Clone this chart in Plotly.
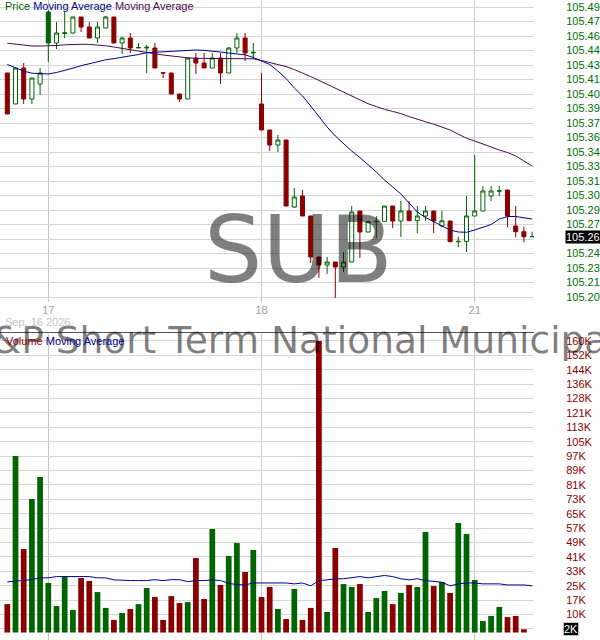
import plotly.graph_objects as go

# 15 minute bars, Sep 16 (last 5) .. Sep 21 (first 8)
opens = [105.424, 105.393, 105.429, 105.398, 105.413, 105.485, 105.454, 105.4635, 105.464, 105.480,
         105.470, 105.459, 105.469, 105.480, 105.454, 105.459, 105.4490, 105.4490, 105.449, 105.4242,
         105.424, 105.403, 105.398, 105.439, 105.434, 105.429, 105.439, 105.424, 105.449, 105.459,
         105.4440, 105.393, 105.367, 105.352, 105.357, 105.290, 105.301, 105.281, 105.240, 105.232,
         105.235, 105.230, 105.235, 105.286, 105.265, 105.2752, 105.2756, 105.291, 105.276, 105.286,
         105.2763, 105.281, 105.286, 105.271, 105.276, 105.2553, 105.2556, 105.281, 105.286, 105.301,
         105.3058, 105.307, 105.271, 105.2653, 105.2602]
highs = [105.424, 105.429, 105.434, 105.419, 105.429, 105.487, 105.475, 105.485, 105.480, 105.480,
         105.475, 105.475, 105.481, 105.480, 105.460, 105.464, 105.454, 105.452, 105.454, 105.4242,
         105.424, 105.403, 105.439, 105.444, 105.444, 105.444, 105.444, 105.450, 105.464, 105.464,
         105.454, 105.424, 105.367, 105.362, 105.357, 105.309, 105.307, 105.281, 105.240, 105.240,
         105.235, 105.245, 105.291, 105.286, 105.2755, 105.281, 105.291, 105.291, 105.296, 105.296,
         105.291, 105.291, 105.286, 105.286, 105.276, 105.260, 105.301, 105.342, 105.311, 105.311,
         105.311, 105.307, 105.291, 105.2703, 105.2653]
lows = [105.383, 105.393, 105.393, 105.393, 105.402, 105.435, 105.448, 105.459, 105.464, 105.465,
        105.459, 105.454, 105.469, 105.454, 105.443, 105.444, 105.449, 105.424, 105.429, 105.419,
        105.403, 105.395, 105.398, 105.423, 105.429, 105.429, 105.413, 105.424, 105.444, 105.436,
        105.438, 105.367, 105.346, 105.345, 105.291, 105.289, 105.281, 105.234, 105.219, 105.223,
        105.199, 105.225, 105.235, 105.239, 105.2647, 105.259, 105.2756, 105.269, 105.260, 105.2763,
        105.264, 105.276, 105.264, 105.2697, 105.255, 105.2497, 105.245, 105.281, 105.286, 105.296,
        105.301, 105.2697, 105.2597, 105.2547, 105.2602]
closes = [105.383, 105.429, 105.398, 105.419, 105.424, 105.454, 105.464, 105.4642, 105.480, 105.470,
          105.459, 105.470, 105.480, 105.454, 105.459, 105.449, 105.4495, 105.4497, 105.429, 105.424,
          105.403, 105.398, 105.439, 105.434, 105.429, 105.439, 105.424, 105.449, 105.459, 105.444,
          105.4446, 105.367, 105.352, 105.357, 105.291, 105.300, 105.281, 105.240, 105.232, 105.235,
          105.230, 105.235, 105.285, 105.265, 105.2753, 105.2756, 105.291, 105.276, 105.286, 105.2763,
          105.281, 105.286, 105.276, 105.2762, 105.2553, 105.2556, 105.281, 105.286, 105.306, 105.306,
          105.3062, 105.281, 105.2653, 105.2603, 105.2605]
prev_close = 105.425

ma_short = [105.4325, 105.429, 105.426, 105.4238, 105.4233, 105.423, 105.4245, 105.4265, 105.4288, 105.4313,
            105.4335, 105.4357, 105.4372, 105.4384, 105.4396, 105.4408, 105.4425, 105.4443, 105.4448, 105.4453,
            105.4457, 105.446, 105.4469, 105.447, 105.4466, 105.446, 105.445, 105.4439, 105.443, 105.4422,
            105.4395, 105.436, 105.4325, 105.426, 105.4185, 105.409, 105.401, 105.391, 105.380, 105.370,
            105.361, 105.353, 105.346, 105.3395, 105.3325, 105.325, 105.317, 105.310, 105.303, 105.294,
            105.285, 105.2795, 105.2753, 105.271, 105.267, 105.265, 105.2647, 105.267, 105.2697, 105.2725,
            105.278, 105.2805, 105.2805, 105.279, 105.278]
ma_long = [105.4538, 105.4527, 105.4517, 105.451, 105.451, 105.451, 105.4515, 105.4522, 105.4527, 105.4527,
           105.4526, 105.4522, 105.4512, 105.450, 105.4485, 105.4472, 105.4457, 105.4443, 105.4432, 105.442,
           105.4409, 105.4397, 105.4392, 105.4387, 105.4387, 105.4387, 105.4387, 105.4387, 105.4387, 105.4387,
           105.4382, 105.4365, 105.4345, 105.4326, 105.4304, 105.4274, 105.4242, 105.4204, 105.4166, 105.4127,
           105.4088, 105.4054, 105.4018, 105.3973, 105.3933, 105.3904, 105.3876, 105.3856, 105.3834, 105.3804,
           105.3775, 105.3752, 105.3729, 105.370, 105.367, 105.3628, 105.3588, 105.356, 105.3528, 105.3497,
           105.347, 105.3445, 105.341, 105.336, 105.331]

volume = [15600, 96900, 45800, 73300, 85400, 27200, 14500, 30600, 12400, 29900,
          28300, 22200, 13500, 6900, 10700, 12900, 15600, 24400, 19500, 6900,
          20000, 16200, 16700, 40900, 18400, 56800, 26100, 42000, 49100, 33200,
          45300, 19500, 25000, 12900, 7400, 23900, 6900, 13500, 160000, 11300,
          46400, 26600, 25000, 26600, 11300, 18900, 22800, 15600, 21700, 26100,
          25000, 55200, 25500, 27700, 21700, 60100, 54100, 28800, 6300, 9100,
          14000, 8500, 9100, 1800]
vol_ma = [27800, 28200, 28700, 29000, 30000, 30000, 30700, 30700, 30700, 30700,
          30700, 30000, 30000, 28900, 28500, 28500, 28500, 28500, 29000, 28500,
          29000, 29000, 27900, 28500, 28500, 28900, 28500, 27000, 26300, 26100,
          27200, 27200, 27200, 27200, 27200, 26700, 27200, 25600, 28500, 28900,
          29500, 29500, 30000, 30700, 30000, 30700, 31300, 30700, 29500, 28900,
          29500, 28500, 27900, 27600, 25600, 26700, 27200, 27200, 26700, 26700,
          26700, 26100, 26100, 26100, 25600]

day_pos = [5, 31, 57]
day_labels = ["17", "18", "21"]
first_date = "Sep, 16 2026"
price_ticks = [105.49 - 0.0145 * i for i in range(21)]
price_labels = ["105.49", "105.47", "105.46", "105.44", "105.43", "105.41", "105.40", "105.39",
                "105.37", "105.36", "105.34", "105.33", "105.31", "105.30", "105.29", "105.27",
                "105.26", "105.24", "105.23", "105.21", "105.20"]
vol_ticks = [2000 + 7900 * i for i in range(21)]
vol_labels = ["2K", "10K", "17K", "25K", "33K", "41K", "49K", "57K", "65K", "73K", "81K",
              "89K", "97K", "105K", "113K", "121K", "128K", "136K", "144K", "152K", "160K"]
symbol = "SUB"
fund_name = "iShares S&amp;P Short Term National Municipal Bond ETF"

GREEN = "#006400"
RED = "#8b0000"
BLUE = "#00008b"
PURPLE = "#4b0a4b"
W, H, PLOT_W = 600, 640, 534
FONT = "Liberation Sans"


def px_x(px):
    return px / PLOT_W


def px_y(py):
    return 1 - py / H


x = list(range(len(closes)))
up = []
last = prev_close
for c in closes:
    up.append(c >= last)
    last = c

fig = go.Figure()

for flag, col in [(True, GREEN), (False, RED)]:
    idx = [i for i in x if up[i] == flag]
    fig.add_trace(go.Candlestick(
        x=idx, open=[opens[i] for i in idx], high=[highs[i] for i in idx],
        low=[lows[i] for i in idx], close=[closes[i] for i in idx],
        increasing=dict(line=dict(color=col, width=1), fillcolor="white"),
        decreasing=dict(line=dict(color=col, width=1), fillcolor=col),
        whiskerwidth=0, xaxis="x", yaxis="y", showlegend=False, hoverinfo="skip"))

fig.add_trace(go.Scatter(x=x, y=ma_long, mode="lines", line=dict(color=PURPLE, width=1),
                         xaxis="x", yaxis="y", showlegend=False, hoverinfo="skip"))
fig.add_trace(go.Scatter(x=x, y=ma_short, mode="lines", line=dict(color=BLUE, width=1),
                         xaxis="x", yaxis="y", showlegend=False, hoverinfo="skip"))

fig.add_trace(go.Bar(x=x[:len(volume)], y=volume, width=0.7,
                     marker=dict(color=[GREEN if up[i] else RED for i in range(len(volume))], line_width=0),
                     xaxis="x2", yaxis="y2", showlegend=False, hoverinfo="skip"))
fig.add_trace(go.Scatter(x=x, y=vol_ma, mode="lines", line=dict(color=BLUE, width=1),
                         xaxis="x2", yaxis="y2", showlegend=False, hoverinfo="skip"))

grid_h = "#d6d6d6"
grid_v = "#c6c6c6"
xrange = [-7.3 / 8.2, len(closes) - 1 + 1.9 / 8.2]

fig.update_layout(
    width=W, height=H, margin=dict(l=0, r=W - PLOT_W, t=0, b=0),
    paper_bgcolor="white", plot_bgcolor="white",
    font=dict(family=FONT, size=11),
    xaxis=dict(domain=[0, 1], anchor="y", range=xrange, tickvals=day_pos, ticktext=day_labels,
               showgrid=True, gridcolor=grid_v, zeroline=False, showline=False, ticks="",
               tickfont=dict(color="#a0a0a0", size=11), rangeslider=dict(visible=False)),
    yaxis=dict(domain=[px_y(302), 1], anchor="x", side="right", range=[105.195, 105.497],
               tickvals=price_ticks, ticktext=price_labels, showgrid=True, gridcolor=grid_h,
               zeroline=False, ticks="outside", ticklen=29, tickcolor="rgba(0,0,0,0)",
               tickfont=dict(color="#007000", size=11)),
    xaxis2=dict(domain=[0, 1], anchor="y2", matches="x", range=xrange, tickvals=day_pos,
                showticklabels=False, showgrid=True, gridcolor=grid_v, zeroline=False, ticks=""),
    yaxis2=dict(domain=[0, px_y(334)], anchor="x2", side="right", range=[-4100, 163800],
                tickvals=vol_ticks, ticktext=vol_labels, showgrid=True, gridcolor=grid_h,
                zeroline=False, ticks="outside", ticklen=29, tickcolor="rgba(0,0,0,0)",
                tickfont=dict(color=RED, size=11)),
    shapes=[dict(type="line", xref="paper", yref="paper", x0=0, x1=1, y0=px_y(332.5), y1=px_y(332.5),
                 line=dict(color="#555555", width=1))],
)

annotations = [
    dict(text=symbol, x=px_x(298), y=px_y(250), font=dict(family="DejaVu Sans", size=92, color="rgba(0,0,0,0.5)")),
    dict(text=fund_name, x=px_x(-184), y=px_y(340), xanchor="left",
         font=dict(family="DejaVu Sans", size=37.5, color="rgba(0,0,0,0.5)")),
    dict(text="<span style='color:%s'>Price</span> <span style='color:%s'>Moving Average</span> "
              "<span style='color:%s'>Moving Average</span>" % (GREEN, BLUE, PURPLE),
         x=px_x(3), y=px_y(6.5), xanchor="left", font=dict(size=11)),
    dict(text="<span style='color:%s'>Volume</span> <span style='color:%s'>Moving Average</span>" % (RED, BLUE),
         x=px_x(4), y=px_y(341), xanchor="left", font=dict(size=11)),
    dict(text=first_date, x=px_x(3), y=px_y(322), xanchor="left", font=dict(size=11, color="#c4c4c4")),
    dict(text="%.2f" % closes[-1], x=px_x(565), y=closes[-1], yref="y", xanchor="left",
         bgcolor="black", borderpad=0, font=dict(size=11, color="white")),
    dict(text="%dK" % round(volume[-1] / 1000), x=px_x(563), y=volume[-1], yref="y2", xanchor="left",
         bgcolor="black", bordercolor="#c0c0c0", borderwidth=1, borderpad=0, font=dict(size=11, color="white")),
]
for a in annotations:
    a.setdefault("xref", "paper")
    a.setdefault("yref", "paper")
    a.setdefault("yanchor", "middle")
    a.setdefault("showarrow", False)
fig.update_layout(annotations=annotations)

fig.write_html("out.html", config={"displayModeBar": False},
               post_script="document.body.style.margin='0';")
